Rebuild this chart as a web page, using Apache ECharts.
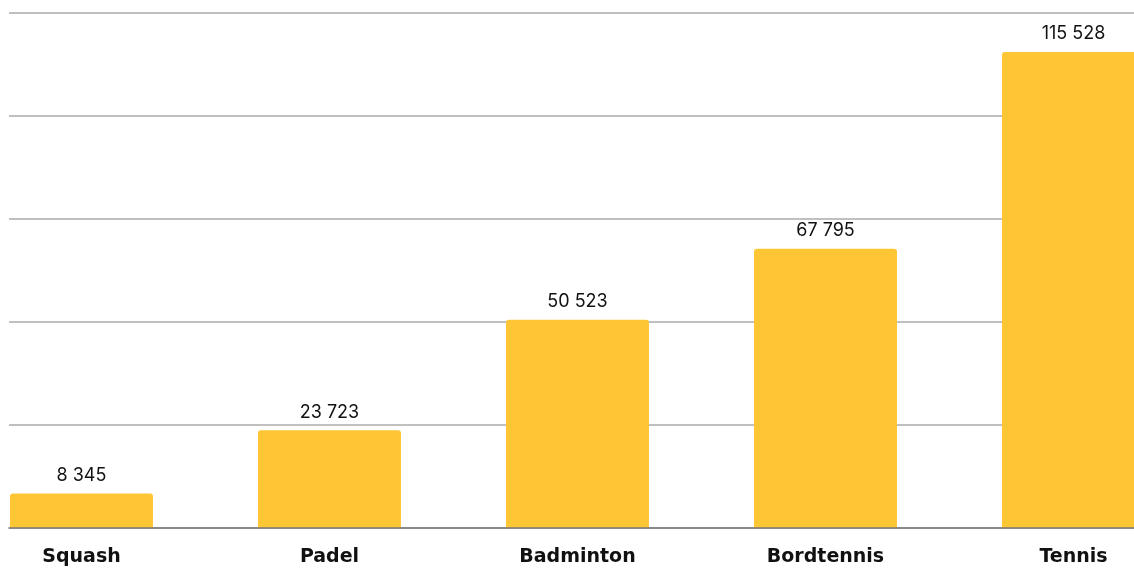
<!DOCTYPE html>
<html>
<head>
<meta charset="utf-8">
<style>
  html, body { margin: 0; padding: 0; background: #fff; }
  #chart { width: 1134px; height: 568px; }
</style>
<script src="https://cdn.jsdelivr.net/npm/echarts@6/dist/echarts.min.js"></script>
</head>
<body>
<div id="chart"></div>
<script>
var categories = ['Squash', 'Padel', 'Badminton', 'Bordtennis', 'Tennis'];
var values = [8345, 23723, 50523, 67795, 115528];
var yTicks = [0, 25000, 50000, 75000, 100000, 125000];

var font = 'Inter, "Noto Sans", sans-serif';
var fmt = function (v) {
    return String(v).replace(/\B(?=(\d{3})+(?!\d))/g, ' ');
};

var myChart = echarts.init(document.getElementById('chart'));
var option = {
    animation: false,
    grid: [
        // grid for the horizontal lines, starts a bit in from the left
        { left: 9, right: 0, top: 13, bottom: 40, outerBoundsMode: 'none' },
        // grid for the bars, bands are wider than the visible area
        { left: -42.5, width: 1240, top: 13, bottom: 40, outerBoundsMode: 'none' }
    ],
    xAxis: [
        {
            gridIndex: 0, type: 'category', data: categories,
            axisLabel: { show: false }, axisTick: { show: false },
            axisLine: { show: true, lineStyle: { color: '#777', width: 1.5 } },
            z: 10
        },
        {
            gridIndex: 1, type: 'category', data: categories,
            axisTick: { show: false },
            axisLine: { show: false },
            axisLabel: {
                margin: 20, color: '#111', fontFamily: '"DejaVu Sans", sans-serif',
                fontSize: 19, fontWeight: 'bold'
            }
        }
    ],
    yAxis: [
        {
            gridIndex: 0, type: 'value', min: yTicks[0], max: yTicks[yTicks.length - 1],
            interval: yTicks[1] - yTicks[0],
            axisLabel: { show: false }, axisLine: { show: false }, axisTick: { show: false },
            splitLine: { lineStyle: { color: '#c0c0c0', width: 2 } }
        },
        {
            gridIndex: 1, type: 'value', min: yTicks[0], max: yTicks[yTicks.length - 1],
            interval: yTicks[1] - yTicks[0],
            show: false, splitLine: { show: false }
        }
    ],
    series: [{
        type: 'bar',
        xAxisIndex: 1,
        yAxisIndex: 1,
        data: values,
        barWidth: 143,
        itemStyle: { color: '#FEC535', borderRadius: [3, 3, 0, 0] },
        label: {
            show: true, position: 'top', distance: 9,
            color: '#111', fontFamily: font, fontSize: 18,
            formatter: function (p) { return fmt(p.value); }
        }
    }]
};
myChart.setOption(option);
</script>
</body>
</html>
